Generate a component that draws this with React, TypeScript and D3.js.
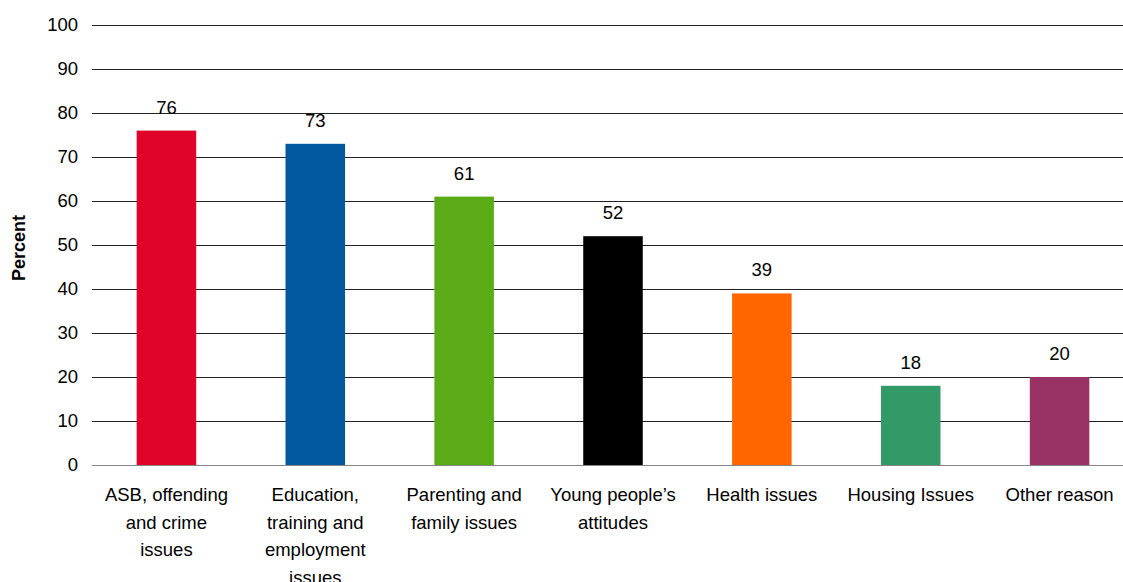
import React from "react";
import * as d3 from "d3";

const categories: string[][] = [
  ["ASB, offending", "and crime", "issues"],
  ["Education,", "training and", "employment", "issues"],
  ["Parenting and", "family issues"],
  ["Young people\u2019s", "attitudes"],
  ["Health issues"],
  ["Housing Issues"],
  ["Other reason"],
];
const values: number[] = [76, 73, 61, 52, 39, 18, 20];
const colors: string[] = ["#E0042A", "#00589F", "#5BAB16", "#000000", "#FF6600", "#339966", "#993366"];
const yTicks: number[] = [0, 10, 20, 30, 40, 50, 60, 70, 80, 90, 100];
const yTitle = "Percent";

const W = 1123;
const H = 582;
const left = 92;
const right = 1134;
const top = 25;
const bottom = 465;

export default function App() {
  const x = d3.scaleBand<number>().domain(d3.range(values.length)).range([left, right]).paddingInner(0.6).paddingOuter(0.3);
  const y = d3.scaleLinear().domain([0, 100]).range([bottom, top]);
  const font = "Arial, 'Liberation Sans', sans-serif";
  return (
    <svg width={W} height={H} style={{ position: "absolute", left: 0, top: 0, background: "#fff" }} fontFamily={font}>
      {yTicks.map((t) => (
        <g key={t}>
          <line x1={left} x2={right} y1={Math.round(y(t)) + 0.5} y2={Math.round(y(t)) + 0.5} stroke={t === 0 ? "#868686" : "#222"} strokeWidth={1} />
          <text x={78} y={y(t)} dy="0.35em" textAnchor="end" fontSize={18.5} fill="#000">{t}</text>
        </g>
      ))}
      {values.map((v, i) => (
        <g key={i}>
          <rect x={x(i)!} y={y(v)} width={x.bandwidth()} height={y(0) - y(v)} fill={colors[i]} />
          <text x={x(i)! + x.bandwidth() / 2} y={y(v) - 17} textAnchor="middle" fontSize={18.5} fill="#000">{v}</text>
          <text x={x(i)! + x.bandwidth() / 2} y={501} textAnchor="middle" fontSize={18.5} fill="#000">
            {categories[i].map((line, j) => (
              <tspan key={j} x={x(i)! + x.bandwidth() / 2} y={501 + j * 27.5}>{line}</tspan>
            ))}
          </text>
        </g>
      ))}
      <text transform={`translate(25,${248}) rotate(-90)`} textAnchor="middle" fontSize={18} fontWeight="bold" fill="#000">{yTitle}</text>
    </svg>
  );
}
